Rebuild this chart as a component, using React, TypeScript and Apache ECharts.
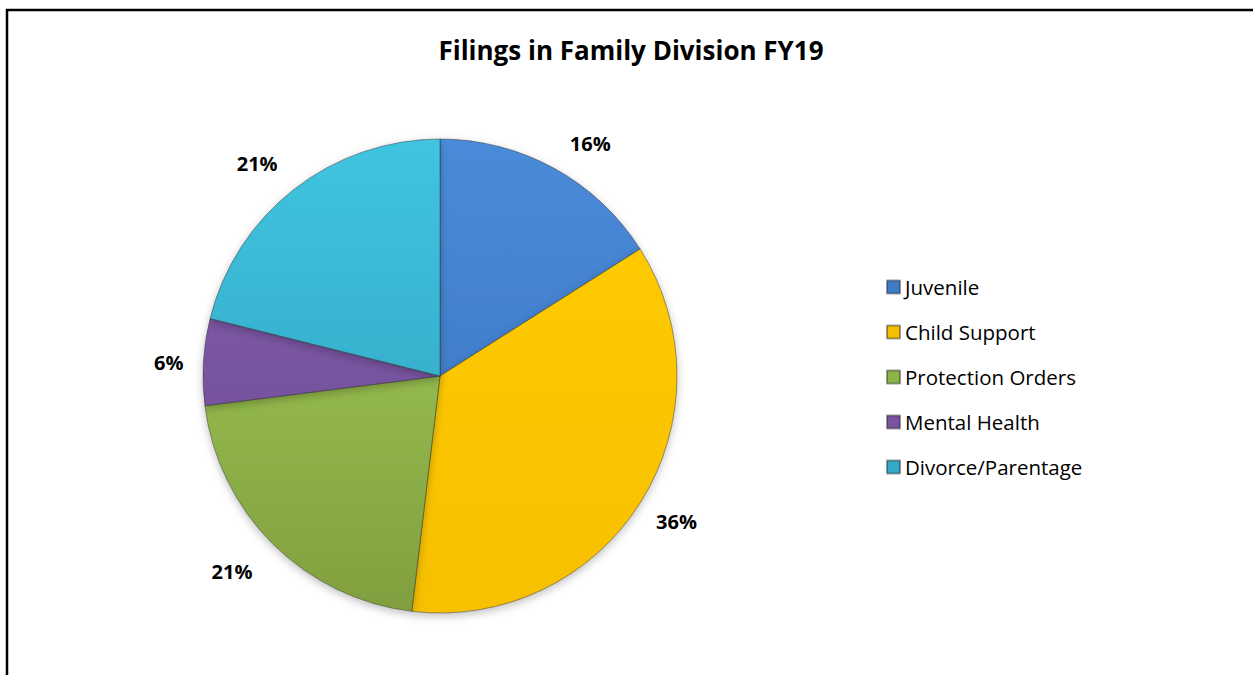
import React, { useEffect, useRef } from "react";
import * as echarts from "echarts";

const categories = ["Juvenile", "Child Support", "Protection Orders", "Mental Health", "Divorce/Parentage"];
const shares = [16.0, 35.9, 21.1, 5.9, 21.1];
const topColors = ["#4A8BD9", "#FFCD05", "#A6D25C", "#8460AE", "#40C4E0"];
const bottomColors = ["#3872BC", "#F7C000", "#809F3E", "#6C4892", "#2E9DBB"];
const legendColors = ["#3E7CC8", "#F5BE00", "#8CB548", "#7A52A0", "#32AAC8"];
const titleText = "Filings in Family Division FY19";

// small best-fit style nudges of the outside labels (pixels)
const labelNudges: [number, number][] = [[0, -6], [-8, 7], [0, 12], [7, 2], [2, -8]];

export default function App() {
  const ref = useRef<HTMLDivElement>(null);
  useEffect(() => {
    document.body.style.margin = "0";
    const chart = echarts.init(ref.current!, null, { renderer: "svg" });
    const font = "'Open Sans', sans-serif";
    chart.setOption({
      animation: false,
      backgroundColor: "#ffffff",
      title: {
        text: titleText,
        left: 631,
        top: 37,
        padding: 0,
        textAlign: "center",
        textStyle: { fontFamily: font, fontWeight: "bold", fontSize: 26, color: "#000" },
      },
      legend: {
        orient: "vertical",
        left: 886,
        top: 274.5,
        padding: 0,
        itemWidth: 13,
        itemHeight: 13,
        itemGap: 20,
        icon: "rect",
        textStyle: { fontFamily: font, fontSize: 20.5, color: "#000", lineHeight: 25 },
        data: categories.map((c, i) => ({ name: c, itemStyle: { color: legendColors[i] } })),
      },
      graphic: [
        {
          type: "rect",
          shape: { x: 7, y: 10, width: 1400, height: 800 },
          style: { fill: "none", stroke: "#000", lineWidth: 2.5 },
          silent: true,
        },
      ],
      series: [
        {
          type: "pie",
          center: [440, 376],
          radius: 237,
          startAngle: 90,
          clockwise: true,
          label: {
            show: true,
            position: "outside",
            formatter: (p: any) => Math.round(p.value) + "%",
            fontFamily: font,
            fontWeight: "bold",
            fontSize: 20,
            color: "#000",
          },
          labelLine: { show: false, length: 22, length2: 0 },
          labelLayout: (p: any) => {
            const n = labelNudges[p.dataIndex] || [0, 0];
            return { dx: n[0], dy: n[1] };
          },
          itemStyle: {
            borderColor: "rgba(40,40,40,0.45)",
            borderWidth: 1,
            shadowBlur: 8,
            shadowOffsetY: 3,
            shadowColor: "rgba(0,0,0,0.25)",
          },
          data: categories.map((c, i) => ({
            name: c,
            value: shares[i],
            itemStyle: {
              color: {
                type: "linear",
                x: 0,
                y: 139,
                x2: 0,
                y2: 613,
                global: true,
                colorStops: [
                  { offset: 0, color: topColors[i] },
                  { offset: 1, color: bottomColors[i] },
                ],
              },
            },
          })),
        },
      ],
    });
    return () => chart.dispose();
  }, []);
  return <div ref={ref} style={{ width: 1253, height: 675 }} />;
}
